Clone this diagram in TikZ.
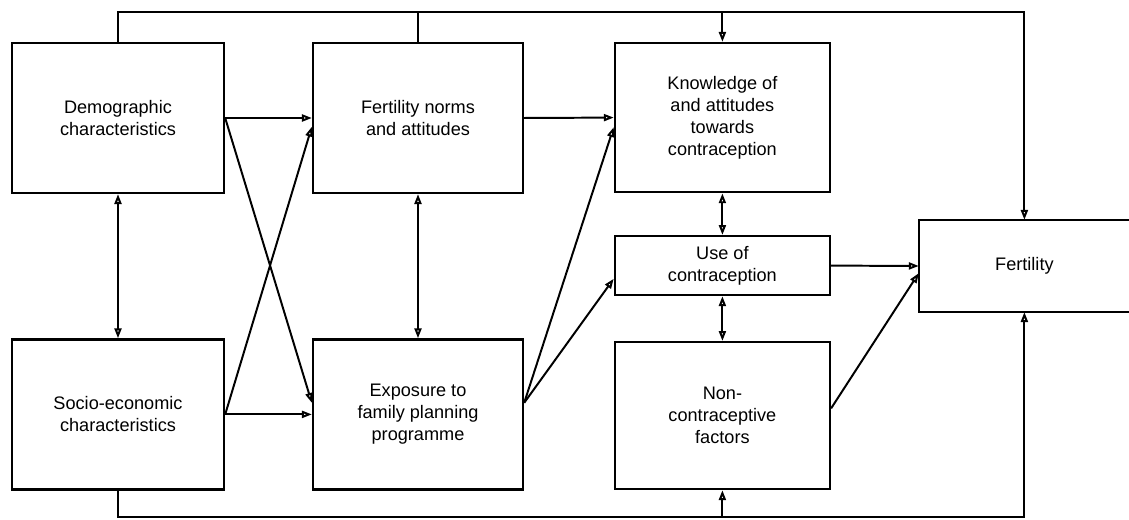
\documentclass[tikz,border=0pt]{standalone}
\usepackage{fontspec}
\setmainfont{Liberation Sans}
\usetikzlibrary{arrows.meta}

\tikzset{
  box/.style={draw,line width=1.7pt,align=center,minimum width=5.3cm,minimum height=3.75cm,
    font=\fontsize{12.9}{15.6}\selectfont},
  con/.style={line width=1.4pt,-{Triangle[open,length=7pt,width=5pt]}},
  bicon/.style={line width=1.4pt,{Triangle[open,length=7pt,width=5pt]}-{Triangle[open,length=7pt,width=5pt]}},
  feed/.style={line width=1.4pt}
}

\begin{document}
\begin{tikzpicture}
  \useasboundingbox (0,0) rectangle (28.225,13);
  % boxes
  \node[box] (demo) at (2.95,10.05) {Demographic\\characteristics};
  \node[box] (socio) at (2.95,2.64) {Socio-economic\\characteristics};
  \node[box,minimum width=5.25cm] (norms) at (10.45,10.05) {Fertility norms\\and attitudes};
  \node[box,minimum width=5.25cm] (expo) at (10.45,2.64) {Exposure to\\family planning\\programme};
  \node[box,minimum width=5.375cm,minimum height=3.73cm] (know) at (18.06,10.06) {Knowledge of\\and attitudes\\towards\\contraception};
  \node[box,minimum width=5.375cm,minimum height=1.475cm] (use) at (18.06,6.36) {Use of\\contraception};
  \node[box,minimum width=5.375cm,minimum height=3.675cm] (noncon) at (18.06,2.61) {Non-\\contraceptive\\factors};
  \node[box,draw=none,minimum width=5.225cm,minimum height=2.25cm] (fert) at (25.61,6.35) {Fertility};
  \draw[line width=1.7pt] (fert.north east) -- (fert.north west) -- (fert.south west) -- (fert.south east);

  % feedback lines
  \coordinate (top) at (0,12.7);
  \coordinate (bot) at (0,0.07);
  \draw[con] (demo.north) -- (demo.north |- top) -| (fert.north);
  \draw[feed] (norms.north) -- (norms.north |- top);
  \draw[con] (know.north |- top) -- (know.north);
  \draw[con] (socio.south) -- (socio.south |- bot) -| (fert.south);
  \draw[con] (noncon.south |- bot) -- (noncon.south);

  % links
  \draw[bicon] (demo) -- (socio);
  \draw[bicon] (norms) -- (expo);
  \draw[bicon] (know) -- (use);
  \draw[bicon] (use) -- (noncon);
  \draw[con] (demo.east) -- (norms.west);
  \draw[con] (demo.east) -- ([yshift=0.29cm]expo.west);
  \draw[con] (socio.east) -- ([yshift=-0.22cm]norms.west);
  \draw[con] (socio.east) -- (expo.west);
  \draw[con] (norms.east) -- (know.west);
  \draw[con] ([yshift=0.29cm]expo.east) -- ([yshift=-0.24cm]know.west);
  \draw[con] ([yshift=0.29cm]expo.east) -- ([yshift=-0.33cm]use.west);
  \draw[con] (use.east) -- (fert.west);
  \draw[con] ([yshift=0.18cm]noncon.east) -- ([yshift=-0.18cm]fert.west);
\end{tikzpicture}
\end{document}
